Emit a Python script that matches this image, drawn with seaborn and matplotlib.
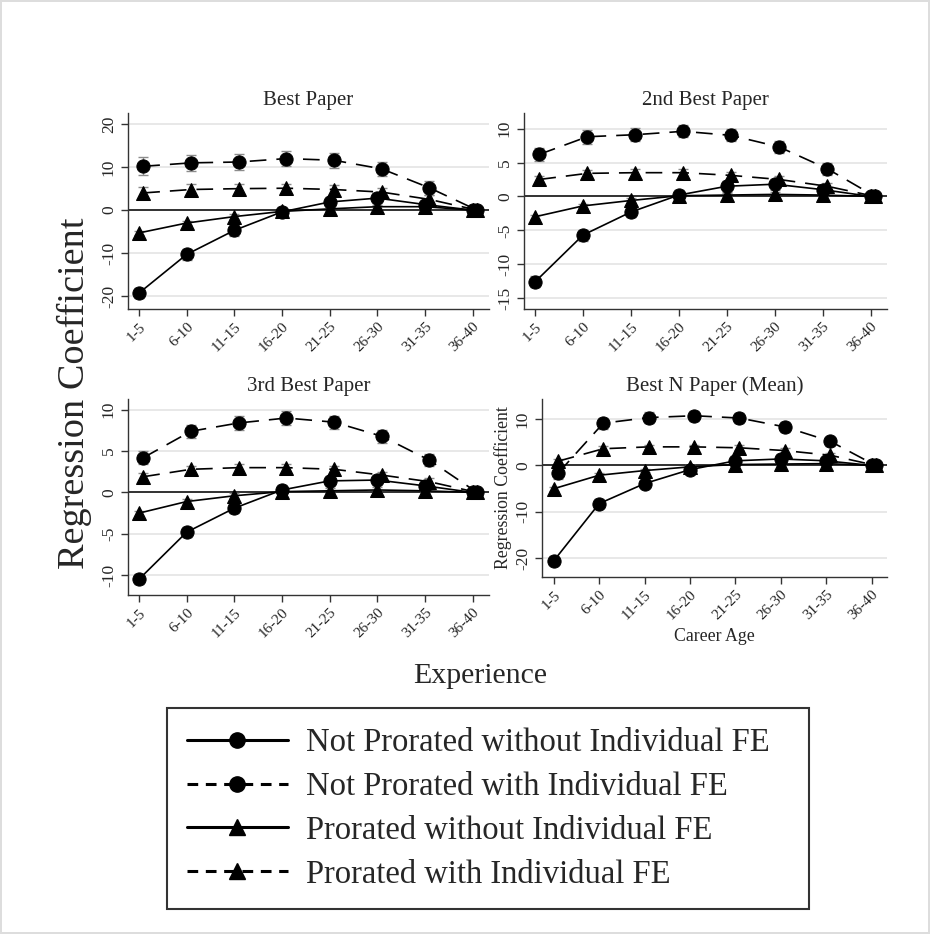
import numpy as np
import pandas as pd
import matplotlib
matplotlib.use("Agg")
import matplotlib.pyplot as plt
import seaborn as sns
from matplotlib.lines import Line2D

# %%
experience = ["1-5", "6-10", "11-15", "16-20", "21-25", "26-30", "31-35", "36-40"]
series_names = ["Not Prorated without Individual FE", "Not Prorated with Individual FE",
                "Prorated without Individual FE", "Prorated with Individual FE"]
panel_titles = ["Best Paper", "2nd Best Paper", "3rd Best Paper", "Best N Paper (Mean)"]

# Best Paper
best_np_nofe = [-19.3, -10.3, -4.7, -0.4, 1.9, 2.8, 1.3, 0.0]
best_np_fe = [10.2, 11.0, 11.2, 12.0, 11.6, 9.6, 5.2, 0.0]
best_p_nofe = [-5.3, -3.0, -1.5, -0.3, 0.3, 0.8, 0.8, 0.0]
best_p_fe = [4.0, 4.8, 5.0, 5.1, 4.8, 4.2, 2.5, 0.0]
best_err_np_nofe = [1.2, 1.2, 1.2, 1.2, 1.2, 1.1, 1.0, 0.0]
best_err_np_fe = [2.1, 1.9, 1.9, 1.8, 1.8, 1.7, 1.6, 0.0]
best_err_p_nofe = [0.5, 0.5, 0.5, 0.5, 0.5, 0.5, 0.5, 0.0]
best_err_p_fe = [1.4, 1.2, 1.1, 1.0, 1.0, 1.0, 1.0, 0.0]

# 2nd Best Paper
second_np_nofe = [-12.6, -5.7, -2.3, 0.2, 1.5, 1.8, 1.0, 0.0]
second_np_fe = [6.2, 8.8, 9.1, 9.6, 9.0, 7.3, 4.1, 0.0]
second_p_nofe = [-3.0, -1.4, -0.6, 0.1, 0.2, 0.3, 0.2, 0.0]
second_p_fe = [2.5, 3.4, 3.5, 3.5, 3.1, 2.5, 1.5, 0.0]
second_err_np_nofe = [0.8, 0.8, 0.8, 0.8, 0.8, 0.8, 0.7, 0.0]
second_err_np_fe = [1.0, 1.0, 1.0, 0.9, 0.9, 0.9, 0.9, 0.0]
second_err_p_nofe = [0.3, 0.3, 0.3, 0.3, 0.3, 0.3, 0.3, 0.0]
second_err_p_fe = [0.5, 0.5, 0.5, 0.5, 0.5, 0.5, 0.5, 0.0]

# 3rd Best Paper
third_np_nofe = [-10.5, -4.8, -1.9, 0.3, 1.4, 1.5, 0.8, 0.0]
third_np_fe = [4.2, 7.4, 8.4, 9.0, 8.5, 6.8, 3.9, 0.0]
third_p_nofe = [-2.5, -1.1, -0.4, 0.1, 0.2, 0.3, 0.2, 0.0]
third_p_fe = [1.9, 2.8, 3.0, 3.0, 2.8, 2.1, 1.3, 0.0]
third_err_np_nofe = [0.6, 0.6, 0.6, 0.6, 0.6, 0.6, 0.6, 0.0]
third_err_np_fe = [0.8, 0.8, 0.8, 0.8, 0.8, 0.8, 0.7, 0.0]
third_err_p_nofe = [0.3, 0.3, 0.3, 0.3, 0.3, 0.3, 0.3, 0.0]
third_err_p_fe = [0.4, 0.4, 0.4, 0.4, 0.4, 0.4, 0.4, 0.0]

# Best N Paper (Mean)
mean_np_nofe = [-20.5, -8.2, -3.9, -0.9, 1.0, 1.4, 1.0, 0.0]
mean_np_fe = [-1.7, 9.1, 10.3, 10.7, 10.2, 8.3, 5.2, 0.0]
mean_p_nofe = [-5.0, -2.1, -1.1, -0.3, 0.2, 0.3, 0.4, 0.0]
mean_p_fe = [0.9, 3.6, 4.0, 4.0, 3.8, 3.2, 2.2, 0.0]
mean_err_np_nofe = [1.0, 1.0, 1.0, 1.0, 1.0, 1.0, 0.9, 0.0]
mean_err_np_fe = [1.2, 1.2, 1.1, 1.1, 1.1, 1.1, 1.0, 0.0]
mean_err_p_nofe = [0.4, 0.4, 0.4, 0.4, 0.4, 0.4, 0.4, 0.0]
mean_err_p_fe = [0.5, 0.5, 0.5, 0.5, 0.5, 0.5, 0.5, 0.0]

yticks_best = [-20, -10, 0, 10, 20]
yticks_second = [-15, -10, -5, 0, 5, 10]
yticks_third = [-10, -5, 0, 5, 10]
yticks_mean = [-20, -10, 0, 10]

# %%
sns.set_style("white")
plt.rcParams["font.family"] = ["Liberation Serif", "DejaVu Serif"]

panels = [
    (panel_titles[0], [best_np_nofe, best_np_fe, best_p_nofe, best_p_fe],
     [best_err_np_nofe, best_err_np_fe, best_err_p_nofe, best_err_p_fe], yticks_best, (-23, 22.6)),
    (panel_titles[1], [second_np_nofe, second_np_fe, second_p_nofe, second_p_fe],
     [second_err_np_nofe, second_err_np_fe, second_err_p_nofe, second_err_p_fe], yticks_second, (-16.6, 12.3)),
    (panel_titles[2], [third_np_nofe, third_np_fe, third_p_nofe, third_p_fe],
     [third_err_np_nofe, third_err_np_fe, third_err_p_nofe, third_err_p_fe], yticks_third, (-12.4, 11.3)),
    (panel_titles[3], [mean_np_nofe, mean_np_fe, mean_p_nofe, mean_p_fe],
     [mean_err_np_nofe, mean_err_np_fe, mean_err_p_nofe, mean_err_p_fe], yticks_mean, (-24, 14.3)),
]

W, H = 930, 934
boxes = [(128, 113, 489, 309), (524, 113, 887, 309), (128, 399, 489, 595), (542, 399, 887, 577)]

fig = plt.figure(figsize=(W / 100, H / 100), dpi=100)
fig.patch.set_edgecolor("#dddddd")
fig.patch.set_linewidth(1.5)

markers = {series_names[0]: "o", series_names[1]: "o", series_names[2]: "^", series_names[3]: "^"}
dashes = {series_names[0]: "", series_names[1]: (10, 6), series_names[2]: "", series_names[3]: (10, 6)}
offsets = [0.0, 0.09, 0.0, 0.09]

for (title, vals, errs, yt, ylim), (l, t, r, b) in zip(panels, boxes):
    ax = fig.add_axes([l / W, 1 - b / H, (r - l) / W, (b - t) / H])
    rows = []
    for name, v, off in zip(series_names, vals, offsets):
        for i, y in enumerate(v):
            rows.append({"x": i + off, "coef": y, "series": name})
    d = pd.DataFrame(rows)

    ax.axhline(0, color="black", lw=1.1, zorder=1.2)
    for v, e, off in zip(vals, errs, offsets):
        xs = np.arange(len(v)) + off
        ax.errorbar(xs, v, yerr=e, fmt="none", ecolor="#8c8c8c", elinewidth=1.0,
                    capsize=3.5, capthick=1.0, zorder=1.5)

    sns.lineplot(data=d, x="x", y="coef", style="series", style_order=series_names,
                 markers=markers, dashes=dashes, color="black", linewidth=1.2,
                 markersize=9.5, markeredgecolor="black", legend=False, ax=ax, zorder=3)

    ax.set_xticks(range(len(experience)))
    ax.set_xticklabels(experience, rotation=45, ha="right", rotation_mode="anchor", fontsize=11)
    ax.set_yticks(yt)
    ax.set_yticklabels([str(v) for v in yt], rotation=90, va="center", fontsize=12.5)
    ax.set_xlim(-0.23, 7.34)
    ax.set_ylim(*ylim)
    ax.yaxis.grid(True, color="#e6e6e6", lw=1.3)
    ax.set_axisbelow(True)
    for s in ["top", "right"]:
        ax.spines[s].set_visible(False)
    for s in ["left", "bottom"]:
        ax.spines[s].set_color("#333333")
        ax.spines[s].set_linewidth(1.0)
    ax.tick_params(direction="out", length=5, width=1, color="#333333", pad=3,
                   bottom=True, left=True)
    ax.set_title(title, fontsize=15, pad=6)
    if title == panel_titles[3]:
        ax.set_xlim(-0.26, 7.34)
        ax.set_ylabel("Regression Coefficient", fontsize=12.8, labelpad=2)
        ax.set_xlabel("Career Age", fontsize=12.8, labelpad=4)
    else:
        ax.set_xlabel("")
        ax.set_ylabel("")

fig.text(74 / W, 1 - 393 / H, "Regression Coefficient", rotation=90,
         ha="center", va="center", fontsize=27.5)
fig.text(480 / W, 1 - 676 / H, "Experience", ha="center", va="center", fontsize=21.5)

handles = [
    Line2D([], [], color="black", lw=2.2, marker="o", markersize=11),
    Line2D([], [], color="black", lw=2.2, marker="o", markersize=11, dashes=(3.5, 2.5)),
    Line2D([], [], color="black", lw=2.2, marker="^", markersize=11),
    Line2D([], [], color="black", lw=2.2, marker="^", markersize=11, dashes=(3.5, 2.5)),
]
leg = fig.legend(handles, series_names, loc="upper left",
                 bbox_to_anchor=(167 / W, 1 - 905 / H, 642 / W, 197 / H), mode="expand",
                 borderaxespad=0, fontsize=23.5,
                 handlelength=3.1, handletextpad=0.55, labelspacing=0.41,
                 borderpad=0.6, frameon=True, fancybox=False)
leg.get_frame().set_edgecolor("black")
leg.get_frame().set_linewidth(1.5)

fig.savefig("out.png", dpi=100)
